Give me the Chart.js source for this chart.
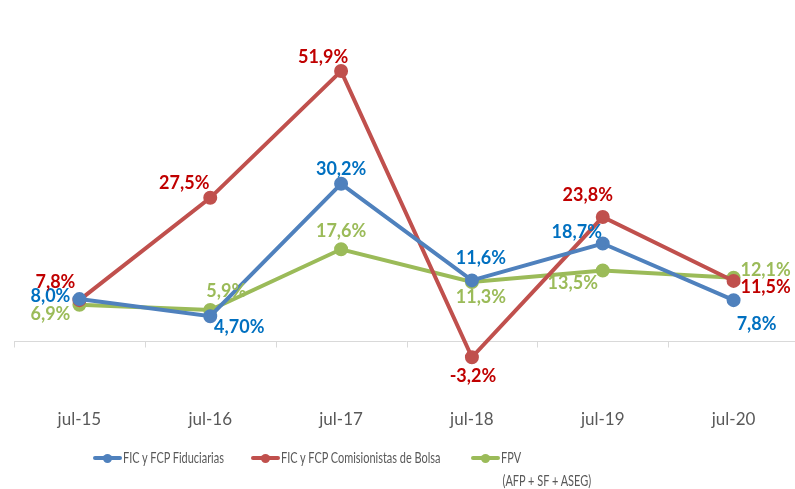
<!DOCTYPE html>
<html>
<head>
<meta charset="utf-8">
<script src="https://cdn.jsdelivr.net/npm/chart.js@4.4.1/dist/chart.umd.min.js"></script>
<style>
  body { margin: 0; background: #fff; }
  #wrap { position: relative; width: 795px; height: 489px; overflow: hidden; }
  #chart { position: absolute; left: 0; top: 0; }
  .item { position: absolute; font: 15px Lato, sans-serif; color: #595959; line-height: 23px; white-space: nowrap; transform: scaleX(0.73); transform-origin: 0 0; }
  .sw { position: absolute; height: 4px; border-radius: 2px; }
  .dot { position: absolute; width: 9px; height: 9px; border-radius: 50%; }
</style>
</head>
<body>
<div id="wrap">
  <canvas id="chart" width="808" height="489"></canvas>
  <div id="legend"></div>
</div>
<script>
// categories and series (percent)
const periods = ['jul-15', 'jul-16', 'jul-17', 'jul-18', 'jul-19', 'jul-20'];
const fiduciarias = [8.0, 4.70, 30.2, 11.6, 18.7, 7.8];
const comisionistas = [7.8, 27.5, 51.9, -3.2, 23.8, 11.5];
const fpv = [6.9, 5.9, 17.6, 11.3, 13.5, 12.1];

// label text as printed on the chart
const fiduciariasText = ['8,0%', '4,70%', '30,2%', '11,6%', '18,7%', '7,8%'];
const comisionistasText = ['7,8%', '27,5%', '51,9%', '-3,2%', '23,8%', '11,5%'];
const fpvText = ['6,9%', '5,9%', '17,6%', '11,3%', '13,5%', '12,1%'];

// where each label sits relative to its point (dx, dy)
const fiduciariasOff = [[-29, -3], [29, 11], [0, -15], [9, -22], [-26, -11], [23, 24]];
const comisionistasOff = [[-24, -18], [-26, -15], [-18, -14], [1, 19], [-15, -22], [32, 6]];
const fpvOff = [[-29, 9], [16, -19], [0, -18], [9, 15], [-30, 13], [32, -8]];

const FONT = 'Lato, sans-serif';

const series = [
  { label: 'FIC y FCP Fiduciarias', data: fiduciarias, color: '#4F81BD', textColor: '#0070C0', text: fiduciariasText, off: fiduciariasOff },
  { label: 'FIC y FCP Comisionistas de Bolsa', data: comisionistas, color: '#C0504D', textColor: '#C00000', text: comisionistasText, off: comisionistasOff },
  { label: 'FPV\n(AFP + SF + ASEG)', data: fpv, color: '#9BBB59', textColor: '#9BBB59', text: fpvText, off: fpvOff }
];

// zero line with tick marks between categories
const zeroAxis = {
  id: 'zeroAxis',
  beforeDatasetsDraw(chart) {
    const { ctx, chartArea, scales } = chart;
    const y0 = Math.round(scales.y.getPixelForValue(0)) + 0.5;
    const step = scales.x.getPixelForValue(1) - scales.x.getPixelForValue(0);
    ctx.save();
    ctx.strokeStyle = '#D9D9D9';
    ctx.lineWidth = 1;
    ctx.beginPath();
    ctx.moveTo(chartArea.left, y0);
    ctx.lineTo(chartArea.right, y0);
    for (let i = 0; i <= periods.length; i++) {
      const x = Math.round(scales.x.getPixelForValue(i) - step / 2) + 0.5;
      ctx.moveTo(x, y0);
      ctx.lineTo(x, y0 + 6);
    }
    ctx.stroke();
    ctx.restore();
  }
};

const pointLabels = {
  id: 'pointLabels',
  afterDatasetsDraw(chart) {
    const { ctx } = chart;
    ctx.save();
    ctx.font = 'bold 18px ' + FONT;
    ctx.textAlign = 'center';
    ctx.textBaseline = 'middle';
    series.forEach((s, di) => {
      const meta = chart.getDatasetMeta(di);
      meta.data.forEach((pt, i) => {
        ctx.fillStyle = s.textColor;
        ctx.fillText(s.text[i], pt.x + s.off[i][0], pt.y + s.off[i][1]);
      });
    });
    ctx.restore();
  }
};

new Chart(document.getElementById('chart'), {
  type: 'line',
  data: {
    labels: periods,
    datasets: series.map(s => ({
      label: s.label,
      data: s.data,
      borderColor: s.color,
      backgroundColor: s.color,
      borderWidth: 4,
      pointRadius: 5,
      pointHoverRadius: 5,
      tension: 0,
      fill: false
    }))
  },
  options: {
    responsive: false,
    animation: false,
    layout: { padding: { left: 14, right: 0, top: 29, bottom: 50 } },
    plugins: { legend: { display: false }, tooltip: { enabled: false } },
    scales: {
      x: {
        offset: true,
        grid: { display: false },
        border: { display: false },
        ticks: { color: '#595959', font: { family: FONT, size: 17 }, padding: 9 }
      },
      y: { display: false, min: -10, max: 60 }
    }
  },
  plugins: [zeroAxis, pointLabels]
});

// legend below the chart
const legendX = [93, 251, 471];
const legend = document.getElementById('legend');
series.forEach((s, i) => {
  const x = legendX[i];
  const sw = document.createElement('div');
  sw.className = 'sw';
  sw.style.cssText = `left:${x}px;top:456px;width:29px;background:${s.color}`;
  const dot = document.createElement('div');
  dot.className = 'dot';
  dot.style.cssText = `left:${x + 10}px;top:454px;background:${s.color}`;
  const txt = document.createElement('div');
  txt.className = 'item';
  txt.style.cssText = `left:${x + 30}px;top:446px`;
  txt.innerHTML = s.label.replace('\n', '<br><span style="padding-left:2px">') + (s.label.includes('\n') ? '</span>' : '');
  legend.append(sw, dot, txt);
});
</script>
</body>
</html>
